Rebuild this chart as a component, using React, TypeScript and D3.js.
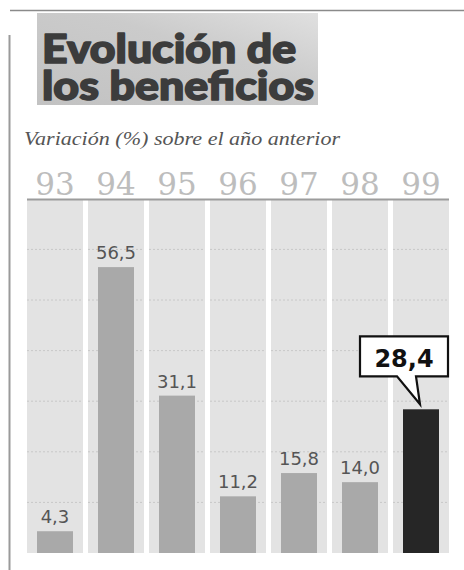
import React from "react";
import * as d3 from "d3";

const years = ["93", "94", "95", "96", "97", "98", "99"];
const values = [4.3, 56.5, 31.1, 11.2, 15.8, 14.0, 28.4];
const valueLabels = ["4,3", "56,5", "31,1", "11,2", "15,8", "14,0", "28,4"];
const gridTicks = [10, 20, 30, 40, 50, 60];
const highlightYear = "99";
const titleLines = ["Evolución de", "los beneficios"];
const subtitle = "Variación (%) sobre el año anterior";

export default function App() {
  const W = 464, H = 570;
  const x = d3.scaleBand<string>().domain(years).range([27, 449]).paddingInner(0.082).paddingOuter(0);
  const y = d3.scaleLinear().domain([0, 60]).range([553, 249.4]);
  const bw = x.bandwidth();
  const barW = 36;
  const colTop = 200;

  return (
    <svg width={W} height={H} style={{ position: "absolute", left: 0, top: 0, background: "#fff" }}>
      <defs>
        <linearGradient id="tg" x1="0" y1="1" x2="1" y2="0">
          <stop offset="0" stopColor="#c2c2c2" />
          <stop offset="0.6" stopColor="#cbcbcb" />
          <stop offset="1" stopColor="#e0e0e0" />
        </linearGradient>
      </defs>
      <rect x={0} y={0} width={W} height={H} fill="#fff" />
      <line x1={10} x2={464} y1={10.5} y2={10.5} stroke="#8a8a8a" strokeWidth={1.5} />
      <line x1={9.5} x2={9.5} y1={35} y2={570} stroke="#9a9a9a" strokeWidth={2} />
      <rect x={37} y={13} width={281} height={92} fill="url(#tg)" />
      <text x={42} y={63} fontFamily="Lato" fontWeight={900} fontSize={39} fill="#3c3c3c"
        stroke="#3c3c3c" strokeWidth={1.6} strokeLinejoin="round"
        textLength={254} lengthAdjust="spacingAndGlyphs">{titleLines[0]}</text>
      <text x={42} y={100} fontFamily="Lato" fontWeight={900} fontSize={39} fill="#3c3c3c"
        stroke="#3c3c3c" strokeWidth={1.6} strokeLinejoin="round"
        textLength={272} lengthAdjust="spacingAndGlyphs">{titleLines[1]}</text>
      <text x={24} y={145} fontFamily="Liberation Serif" fontStyle="italic" fontSize={19} fill="#555"
        textLength={316} lengthAdjust="spacingAndGlyphs">{subtitle}</text>

      {years.map((yr) => (
        <text key={"yl" + yr} x={(x(yr) as number) + bw / 2} y={195} textAnchor="middle"
          fontFamily="DejaVu Serif" fontSize={31} fill="#bdbdbd">{yr}</text>
      ))}

      {years.map((yr) => (
        <rect key={"col" + yr} x={x(yr)} y={colTop} width={bw} height={553 - colTop} fill="#e3e3e3" />
      ))}
      <line x1={27} x2={449} y1={199.5} y2={199.5} stroke="#9c9c9c" strokeWidth={2} />

      {years.map((yr) =>
        gridTicks.map((t) => (
          <line key={"g" + yr + t} x1={x(yr)} x2={(x(yr) as number) + bw} y1={y(t)} y2={y(t)}
            stroke="#c8c8c8" strokeWidth={1} strokeDasharray="2,2" />
        ))
      )}

      {years.map((yr, i) => {
        const bx = (x(yr) as number) + (bw - barW) / 2;
        const hl = yr === highlightYear;
        return (
          <rect key={"b" + yr} x={bx} y={y(values[i])} width={barW} height={y(0) - y(values[i])}
            fill={hl ? "#262626" : "#a9a9a9"} />
        );
      })}

      {years.map((yr, i) => {
        if (yr === highlightYear) return null;
        return (
          <text key={"v" + yr} x={(x(yr) as number) + bw / 2} y={y(values[i]) - 8} textAnchor="middle"
            fontFamily="DejaVu Sans" fontSize={18} fill="#555">{valueLabels[i]}</text>
        );
      })}

      {(() => {
        const i = years.indexOf(highlightYear);
        const cx = (x(highlightYear) as number) + bw / 2;
        const tipY = y(values[i]) - 5;
        const boxBottom = tipY - 28;
        const boxTop = boxBottom - 40;
        const bx0 = cx - 61, bx1 = cx + 27;
        const p = `M${bx0},${boxTop} L${bx1},${boxTop} L${bx1},${boxBottom} L${cx - 5},${boxBottom} L${cx - 1},${tipY} L${cx - 24},${boxBottom} L${bx0},${boxBottom} Z`;
        return (
          <g>
            <path d={p} fill="#fff" stroke="#111" strokeWidth={2.2} strokeLinejoin="miter" />
            <text x={(bx0 + bx1) / 2} y={boxBottom - 9} textAnchor="middle" fontFamily="DejaVu Sans"
              fontWeight="bold" fontSize={24} fill="#111">{valueLabels[i]}</text>
          </g>
        );
      })()}
    </svg>
  );
}
